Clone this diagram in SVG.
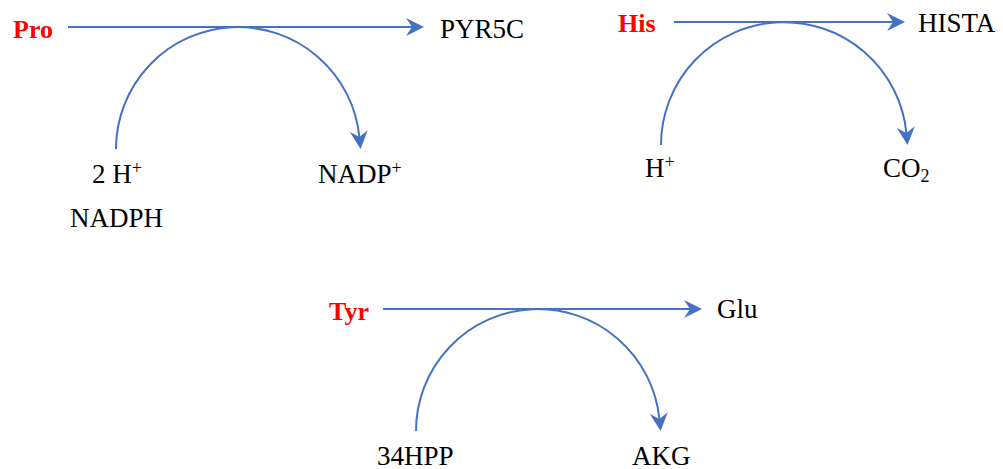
<svg xmlns="http://www.w3.org/2000/svg" width="1003" height="469" viewBox="0 0 1003 469">
<style>
.t{font-family:"Liberation Serif","Times New Roman",serif;font-size:27px;fill:#000}
.r{font-family:"Liberation Serif","Times New Roman",serif;font-size:26px;font-weight:bold;fill:#ff0000}
.sup{font-size:18px}
.c{fill:none;stroke:#4472C4;stroke-width:2}
</style>
<defs>
<marker id="ah" markerUnits="userSpaceOnUse" markerWidth="18" markerHeight="18" viewBox="0 0 18 18" refX="6" refY="9" orient="auto">
<path d="M0,0 L18,9 L0,18 L6,9 Z" fill="#4472C4"/>
</marker>
</defs>
<rect width="1003" height="469" fill="#fff"/>
<g id="connectors">
<line class="c" x1="68" y1="27" x2="412" y2="27" marker-end="url(#ah)"/>
<path class="c" d="M116,149 A122,122 0 0 1 359.4,137" marker-end="url(#ah)"/>
<line class="c" x1="674" y1="22" x2="893" y2="22" marker-end="url(#ah)"/>
<path class="c" d="M661,145 A123,123 0 0 1 906.4,133" marker-end="url(#ah)"/>
<line class="c" x1="383" y1="309" x2="690" y2="309" marker-end="url(#ah)"/>
<path class="c" d="M416,431 A122,122 0 0 1 659.4,419" marker-end="url(#ah)"/>
</g>
<g id="pro"><text class="r" x="13" y="38">Pro</text></g>
<g id="pyr5c"><text class="t" x="440" y="38">PYR5C</text></g>
<g id="twoH"><text class="t" x="92" y="183">2 H<tspan class="sup" dy="-9">+</tspan></text></g>
<g id="nadph"><text class="t" x="70" y="227">NADPH</text></g>
<g id="nadp"><text class="t" x="318" y="183">NADP<tspan class="sup" dy="-9">+</tspan></text></g>
<g id="his"><text class="r" x="618" y="32">His</text></g>
<g id="hista"><text class="t" x="918" y="32">HISTA</text></g>
<g id="hplus"><text class="t" x="645" y="177">H<tspan class="sup" dy="-9">+</tspan></text></g>
<g id="co2"><text class="t" x="883" y="177">CO<tspan class="sup" dy="5">2</tspan></text></g>
<g id="tyr"><text class="r" x="329" y="320">Tyr</text></g>
<g id="glu"><text class="t" x="717" y="318">Glu</text></g>
<g id="hpp"><text class="t" x="377" y="465">34HPP</text></g>
<g id="akg"><text class="t" x="632" y="465">AKG</text></g>
</svg>
